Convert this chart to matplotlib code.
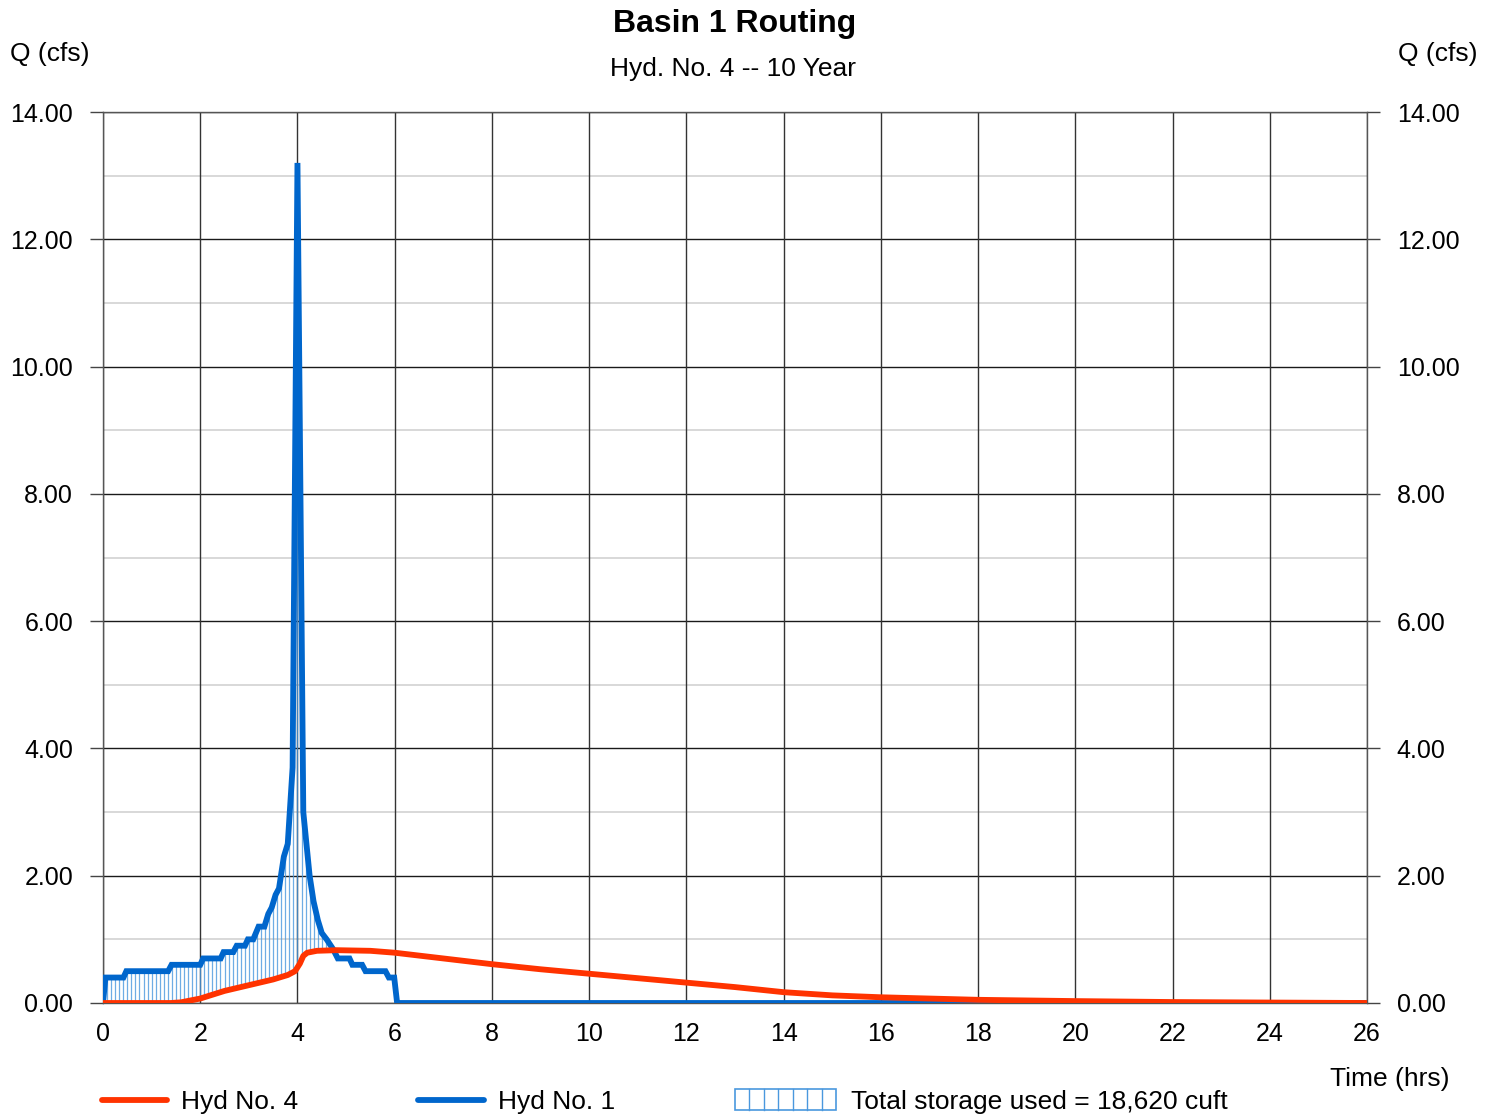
import numpy as np
import matplotlib
matplotlib.use("Agg")
import matplotlib.pyplot as plt
from matplotlib.lines import Line2D
from matplotlib.patches import Rectangle

plt.rcParams["font.family"] = ["Liberation Sans", "DejaVu Sans"]

# Hyd No. 1 (inflow), hours / cfs
t_in = [0, 0.05, 0.42, 0.48, 1.34, 1.41, 2.0, 2.06, 2.42, 2.48, 2.68, 2.75, 2.92, 2.98,
        3.09, 3.2, 3.32, 3.4, 3.47, 3.55, 3.62, 3.72, 3.8, 3.9, 4.0, 4.12, 4.25, 4.33,
        4.42, 4.5, 4.6, 4.73, 4.83, 5.07, 5.13, 5.33, 5.4, 5.81, 5.88, 5.99, 6.05, 26.0]
q_in = [0, 0.4, 0.4, 0.5, 0.5, 0.6, 0.6, 0.7, 0.7, 0.8, 0.8, 0.9, 0.9, 1.0,
        1.0, 1.2, 1.2, 1.4, 1.5, 1.7, 1.8, 2.3, 2.5, 3.7, 13.2, 3.0, 2.0, 1.6,
        1.3, 1.1, 1.0, 0.85, 0.7, 0.7, 0.6, 0.6, 0.5, 0.5, 0.4, 0.4, 0.0, 0.0]

# Hyd No. 4 (routed outflow)
t_out = [0, 1.4, 1.6, 2.0, 2.5, 3.0, 3.5, 3.8, 3.95, 4.05, 4.12, 4.2, 4.4, 4.8, 5.5,
         6, 7, 8, 9, 10, 11, 12, 13, 14, 15, 16, 17, 18, 20, 22, 24, 26]
q_out = [0, 0, 0.01, 0.07, 0.19, 0.28, 0.37, 0.44, 0.5, 0.62, 0.74, 0.79, 0.82, 0.83, 0.82,
         0.79, 0.70, 0.61, 0.53, 0.46, 0.39, 0.32, 0.25, 0.17, 0.12, 0.09, 0.07, 0.05,
         0.03, 0.015, 0.007, 0.0]

x_ticks = list(range(0, 27, 2))
y_ticks = list(range(0, 15, 2))
storage_label = "Total storage used = 18,620 cuft"

RED = "#FF3300"
BLUE = "#0066CC"
HATCH = "#4A98DE"
W, H = 1494, 1114
FS = 19

fig = plt.figure(figsize=(W / 100, H / 100), dpi=100)
ax = fig.add_axes([103 / W, 1 - 1003 / H, (1367 - 103) / W, (1003 - 112) / H])

ax.set_xlim(0, 26)
ax.set_ylim(0, 14)

# grid
for y in np.arange(1, 14, 2):
    ax.axhline(y, color="#d6d6d6", lw=1.3, zorder=0)
for y in y_ticks:
    ax.axhline(y, color="#1a1a1a", lw=1.0, zorder=0.5)
for x in x_ticks:
    ax.axvline(x, color="#333333", lw=1.0, zorder=0.5)
for s in ax.spines.values():
    s.set_color("#555555")
    s.set_linewidth(1.0)

# storage hatch
th = np.arange(0, 26, 1 / 12)
hi = np.interp(th, t_in, q_in)
lo = np.interp(th, t_out, q_out)
m = hi > lo + 0.02
ax.vlines(th[m], lo[m], hi[m], color=HATCH, lw=0.9, alpha=0.8, zorder=1)

ax.plot(t_in, q_in, color=BLUE, lw=4.2, solid_joinstyle="miter", zorder=3)
ax.plot(t_out, q_out, color=RED, lw=4.2, solid_capstyle="round", zorder=4)

ax.set_xticks(x_ticks)
ax.set_xticklabels([str(v) for v in x_ticks])
ax.set_yticks(y_ticks)
ax.set_yticklabels([f"{v:.2f}" for v in y_ticks])
ax.tick_params(axis="x", length=0, pad=14, labelsize=18)
ax.tick_params(axis="y", length=9.5, width=1, color="#444444", pad=12, labelsize=18,
               right=True, labelright=True)

# titles and axis labels
fig.text(735 / W, 1 - 24 / H, "Basin 1 Routing", ha="center", va="center",
         fontsize=23, fontweight="bold")
fig.text(733 / W, 1 - 69 / H, "Hyd. No. 4 -- 10 Year", ha="center", va="center", fontsize=FS)
fig.text(10 / W, 1 - 54 / H, "Q (cfs)", ha="left", va="center", fontsize=FS)
fig.text(1478 / W, 1 - 54 / H, "Q (cfs)", ha="right", va="center", fontsize=FS)
fig.text(1450 / W, 1 - 1079 / H, "Time (hrs)", ha="right", va="center", fontsize=FS)

# legend
ly = 1 - 1100 / H
fig.add_artist(Line2D([102 / W, 167 / W], [ly, ly], color=RED, lw=4.2, solid_capstyle="round"))
fig.text(181 / W, ly - 2 / H, "Hyd No. 4", ha="left", va="center", fontsize=FS)
fig.add_artist(Line2D([418 / W, 484 / W], [ly, ly], color=BLUE, lw=4.2, solid_capstyle="round"))
fig.text(498 / W, ly - 2 / H, "Hyd No. 1", ha="left", va="center", fontsize=FS)
bx0, bx1, by0, by1 = 735, 836, 1089, 1110
fig.add_artist(Rectangle((bx0 / W, 1 - by1 / H), (bx1 - bx0) / W, (by1 - by0) / H,
                         fill=False, edgecolor=HATCH, lw=1.2))
for xx in np.linspace(bx0, bx1, 8)[1:-1]:
    fig.add_artist(Line2D([xx / W, xx / W], [1 - by1 / H, 1 - by0 / H], color=HATCH, lw=1.0))
fig.text(851 / W, ly - 2 / H, storage_label, ha="left", va="center", fontsize=FS)

fig.savefig("out.png", dpi=100)
